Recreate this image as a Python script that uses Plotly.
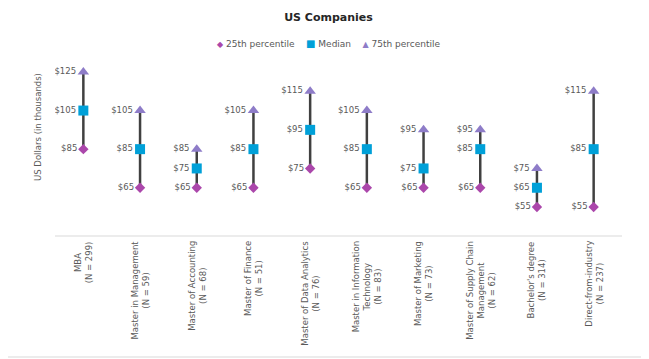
import plotly.graph_objects as go

categories = ["MBA", "Master in Management", "Master of Accounting", "Master of Finance",
              "Master of Data Analytics", "Master in Information Technology",
              "Master of Marketing", "Master of Supply Chain Management",
              "Bachelor's degree", "Direct-from-industry"]
tick_labels = ["MBA<br>(N = 299)", "Master in Management<br>(N = 59)",
               "Master of Accounting<br>(N = 68)", "Master of Finance<br>(N = 51)",
               "Master of Data Analytics<br>(N = 76)",
               "Master in Information<br>Technology<br>(N = 83)",
               "Master of Marketing<br>(N = 73)",
               "Master of Supply Chain<br>Management<br>(N = 62)",
               "Bachelor's degree<br>(N = 314)", "Direct-from-industry<br>(N = 237)"]
p25 = [85, 65, 65, 65, 75, 65, 65, 65, 55, 55]
median = [105, 85, 75, 85, 95, 85, 75, 85, 65, 85]
p75 = [125, 105, 85, 105, 115, 105, 95, 95, 75, 115]

FONT = "DejaVu Sans"
GRAY = "#595959"
C25, CMED, C75 = "#AB47AB", "#00A0D8", "#8E7CC8"

xs = list(range(len(categories)))
lx, ly = [], []
for i in xs:
    lx += [i, i, None]
    ly += [p25[i], p75[i], None]

fig = go.Figure()
fig.add_trace(go.Scatter(x=lx, y=ly, mode="lines", line=dict(color="#404040", width=2.5),
                         showlegend=False, hoverinfo="skip"))

def lab(v):
    return [f"${x}" for x in v]

tf = dict(size=8.5, color=GRAY, family=FONT)
fig.add_trace(go.Scatter(x=xs, y=p25, mode="markers+text", name="25th percentile",
                         marker=dict(symbol="diamond", size=8, color=C25),
                         text=lab(p25), textposition="middle left", textfont=tf,
                         showlegend=False))
fig.add_trace(go.Scatter(x=xs, y=median, mode="markers+text", name="Median",
                         marker=dict(symbol="square", size=10, color=CMED),
                         text=lab(median), textposition="middle left", textfont=tf,
                         showlegend=False))
fig.add_trace(go.Scatter(x=xs, y=p75, mode="markers+text", name="75th percentile",
                         marker=dict(symbol="triangle-up", size=10, color=C75),
                         text=lab(p75), textposition="middle left", textfont=tf,
                         showlegend=False))

annotations = []
for i, t in enumerate(tick_labels):
    annotations.append(dict(x=i, xref="x", y=0, yref="paper", text=t, showarrow=False,
                            textangle=-90, xanchor="center", yanchor="top", yshift=-3,
                            align="center", font=tf))
annotations.append(dict(x=-0.030, xref="paper", xanchor="center", y=0.565, yref="paper",
                        text="US Dollars (in thousands)", showarrow=False, textangle=-90,
                        font=tf))
legend_text = (f"<span style='color:{C25};font-size:8px'>◆</span> 25th percentile"
               f"&nbsp;&nbsp;&nbsp;&nbsp;<span style='color:{CMED};font-size:10px'>■</span> Median"
               f"&nbsp;&nbsp;&nbsp;&nbsp;<span style='color:{C75};font-size:8px'>▲</span> 75th percentile")
annotations.append(dict(x=0.484, xref="paper", xanchor="center", y=0.995, yref="paper",
                        yanchor="middle", text=legend_text, showarrow=False,
                        font=dict(size=9, color=GRAY, family=FONT)))

fig.update_layout(
    width=641, height=351,
    margin=dict(l=47, r=27, t=35, b=123),
    paper_bgcolor="white", plot_bgcolor="white",
    title=dict(text="<b>US Companies</b>", x=0.5, xanchor="center",
               y=0.974, yanchor="middle",
               font=dict(size=11, color="#262626", family=FONT)),
    xaxis=dict(range=[-0.5, 9.5], showticklabels=False, showgrid=False, zeroline=False,
               showline=False),
    yaxis=dict(range=[40, 140], showticklabels=False, showgrid=False, zeroline=False,
               showline=False),
    annotations=annotations,
    shapes=[dict(type="line", xref="paper", yref="paper", x0=0, x1=1, y0=0, y1=0,
                 line=dict(color="#D9D9D9", width=1)),
            dict(type="line", xref="paper", yref="paper", x0=-0.1, x1=1.05, y0=-0.627, y1=-0.627,
                 line=dict(color="#D9D9D9", width=1))],
)
fig.write_html("out.html")
